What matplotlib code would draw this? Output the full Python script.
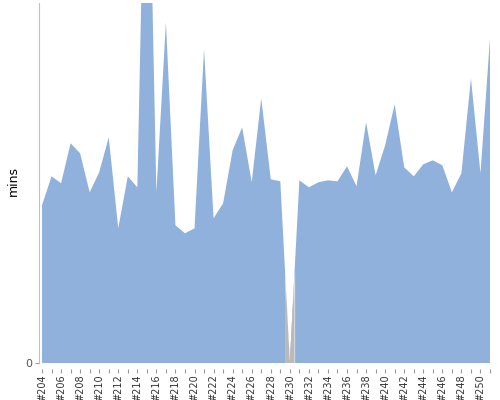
import numpy as np
import matplotlib
matplotlib.use('Agg')
import matplotlib.pyplot as plt
from matplotlib.colors import LinearSegmentedColormap

# build numbers and durations (minutes)
builds = list(range(204, 252))
durations = [15.8, 18.7, 18.0, 22.0, 21.0, 17.1, 19.1, 22.6, 13.5, 18.7,
             17.6, 63.0, 17.1, 34.1, 13.8, 13.0, 13.5, 31.4, 14.5, 16.0,
             21.3, 23.6, 18.1, 26.5, 18.4, 18.2, 0.2, 18.3, 17.6, 18.1,
             18.3, 18.2, 19.7, 17.7, 24.1, 18.8, 21.8, 25.9, 19.6, 18.7,
             19.9, 20.3, 19.8, 17.1, 19.0, 28.5, 19.0, 32.5]
aborted = [230]
tick_labels = ['#%d' % b if b % 2 == 0 else '' for b in builds]

blue = '#8fb1db'
gray = '#bababa'

fig = plt.figure(figsize=(5, 4), dpi=100)
ax = fig.add_axes([39 / 500, 36.7 / 400, 453 / 500, 360.3 / 400])

# spine position first, it resets the ticks
for s in ['top', 'right']:
    ax.spines[s].set_visible(False)
ax.spines['bottom'].set_position(('outward', 4))
ax.spines['bottom'].set_visible(False)
ax.spines['left'].set_color('#c0c0c0')

x = np.array(builds, dtype=float)
y = np.array(durations)
ax.fill_between(x, 0, y, color=blue, linewidth=0, zorder=1)

# aborted builds: gray section between the midpoints around the build
cmap = LinearSegmentedColormap.from_list('ab', [gray, gray, gray, 'white'])
for b in aborted:
    xs = np.array([b - 0.5, b, b + 0.5])
    ys = np.interp(xs, x, y)
    poly = ax.fill_between(xs, 0, ys, color='white', linewidth=0, zorder=2)
    grad = np.linspace(0, 1, 100).reshape(-1, 1)
    im = ax.imshow(grad, extent=[b - 0.5, b + 0.5, 0, ys.max()], origin='lower',
                   cmap=cmap, aspect='auto', zorder=3)
    im.set_clip_path(poly.get_paths()[0], transform=ax.transData)

ax.set_xlim(builds[0] - 3 / 9.53, builds[-1] + 2 / 9.53)
ax.set_ylim(0, 36.03)

ax.set_xticks(builds)
ax.set_xticklabels(tick_labels, rotation=90, fontsize=7, color='#333333')
ax.set_yticks([0])
ax.set_yticklabels(['0'], fontsize=8, color='#555555')
ax.tick_params(axis='x', length=3, color='#999999', pad=1)
ax.tick_params(axis='y', length=3, color='#999999', pad=2)

fig.text(13 / 500, 1 - 181 / 400, 'mins', rotation=90, ha='center', va='center',
         fontsize=9, color='#000000')

fig.savefig('out.png', dpi=100)
